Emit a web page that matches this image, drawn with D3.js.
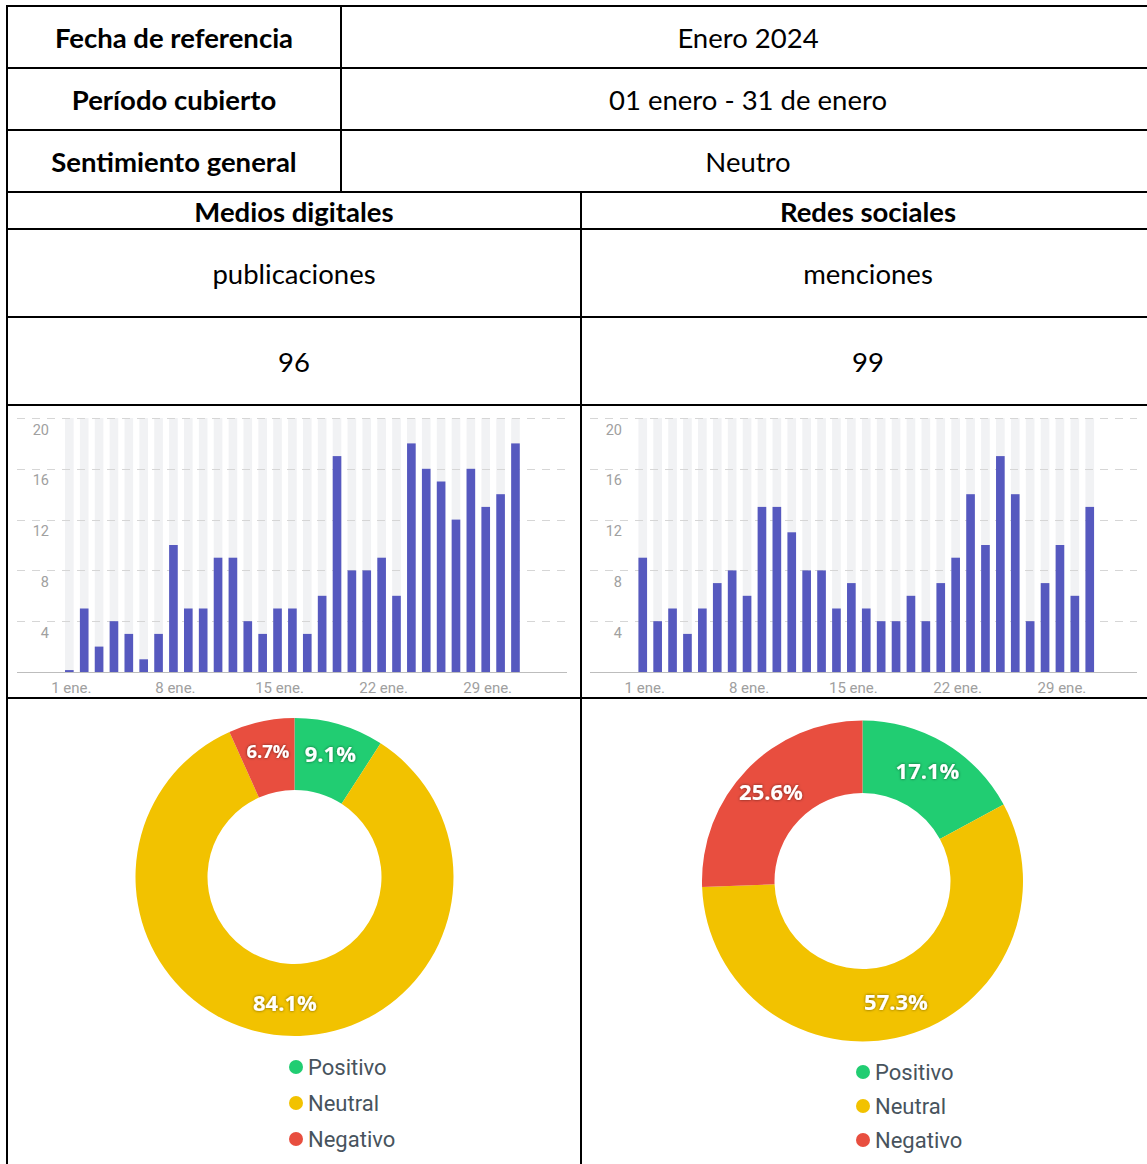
<!DOCTYPE html>
<html>
<head>
<meta charset="utf-8">
<script src="https://cdn.jsdelivr.net/npm/d3@7"></script>
<style>
  html, body { margin: 0; padding: 0; background: #fff; }
  svg { display: block; }
</style>
</head>
<body>
<svg id="chart" width="1147" height="1164"></svg>
<script>
// ---------------- DATA ----------------
const infoLabels = ["Fecha de referencia", "Período cubierto", "Sentimiento general"];
const infoValues = ["Enero 2024", "01 enero - 31 de enero", "Neutro"];
const sectionTitles = ["Medios digitales", "Redes sociales"];
const metricNames = ["publicaciones", "menciones"];
const metricTotals = [96, 99];

const days = [1,2,3,4,5,6,7,8,9,10,11,12,13,14,15,16,17,18,19,20,21,22,23,24,25,26,27,28,29,30,31];
const xTickDays = [1, 8, 15, 22, 29];
const xTickLabels = ["1 ene.", "8 ene.", "15 ene.", "22 ene.", "29 ene."];
const yTicks = [4, 8, 12, 16, 20];

const mediosDaily = [0.15,5,2,4,3,1,3,10,5,5,9,9,4,3,5,5,3,6,17,8,8,9,6,18,16,15,12,16,13,14,18];
const redesDaily  = [9,4,5,3,5,7,8,6,13,13,11,8,8,5,7,5,4,4,6,4,7,9,14,10,17,14,4,7,10,6,13];

const sentimentLabels = ["Positivo", "Neutral", "Negativo"];
const mediosSentiment = [9.1, 84.1, 6.7];
const redesSentiment  = [17.1, 57.3, 25.6];

// ---------------- STYLE ----------------
const sentimentColors = ["#21cd72", "#f2c200", "#e84e3f"];
const tableFont = "Lato, 'Open Sans', sans-serif";
const labelFont = "'Open Sans', 'Noto Sans', sans-serif";
const chartFont = "Roboto, 'Noto Sans', sans-serif";

const svg = d3.select("#chart");

const defs = svg.append("defs");
const f = defs.append("filter").attr("id", "shadow").attr("x", "-30%").attr("y", "-50%").attr("width", "160%").attr("height", "200%");
f.append("feDropShadow").attr("dx", 0).attr("dy", 0).attr("stdDeviation", 1.6)
  .attr("flood-color", "#000").attr("flood-opacity", 0.55);

// ---------------- TABLE TEXT ----------------
const rowCenters = [38, 100, 162];
function cellText(x, y, t, bold) {
  svg.append("text").attr("x", x).attr("y", y - 1)
    .attr("text-anchor", "middle").attr("dominant-baseline", "central")
    .style("font-family", tableFont).style("font-weight", bold ? 700 : 400)
    .style("font-size", "27.5px")
    .attr("fill", "#000").text(t);
}
infoLabels.forEach((t, i) => cellText(174, rowCenters[i], t, true));
infoValues.forEach((t, i) => cellText(748, rowCenters[i], t, false));
const colCenters = [294, 868];
sectionTitles.forEach((t, i) => cellText(colCenters[i], 212, t, true));
metricNames.forEach((t, i) => cellText(colCenters[i], 274, t, false));
metricTotals.forEach((t, i) => cellText(colCenters[i], 362, t, false));

// ---------------- BAR CHARTS ----------------
function barChart(values, opt) {
  const g = svg.append("g");
  const x = d3.scaleBand().domain(days).range([opt.x0, opt.x1]).paddingInner(0.42).paddingOuter(0.21);
  const y = d3.scaleLinear().domain([0, 20]).range([opt.base, 418]);

  g.selectAll("rect.bg").data(days).join("rect").attr("class", "bg")
    .attr("x", d => x(d)).attr("width", x.bandwidth())
    .attr("y", y(20)).attr("height", y(0) - y(20))
    .attr("fill", "#f1f2f4");

  g.selectAll("line.grid").data(yTicks).join("line").attr("class", "grid")
    .attr("x1", opt.gx0).attr("x2", opt.gx1)
    .attr("y1", d => Math.round(y(d)) + 0.5).attr("y2", d => Math.round(y(d)) + 0.5)
    .attr("stroke", "#d6d6d6").attr("stroke-width", 1).attr("stroke-dasharray", "8,7");

  g.selectAll("rect.bar").data(values).join("rect").attr("class", "bar")
    .attr("x", (d, i) => x(days[i])).attr("width", x.bandwidth())
    .attr("y", d => y(d)).attr("height", d => y(0) - y(d))
    .attr("fill", "#5659bf");

  g.append("line").attr("x1", opt.gx0).attr("x2", opt.gx1)
    .attr("y1", y(0) + 0.5).attr("y2", y(0) + 0.5)
    .attr("stroke", "#bdbdbd").attr("stroke-width", 1);

  g.selectAll("text.yl").data(yTicks).join("text").attr("class", "yl")
    .attr("x", opt.ylx).attr("y", d => y(d) + 12)
    .attr("text-anchor", "end").attr("dominant-baseline", "central")
    .style("font-family", chartFont).style("font-size", "14.5px")
    .attr("fill", "#a0a0a0").text(d => d);

  g.selectAll("text.xl").data(xTickDays).join("text").attr("class", "xl")
    .attr("x", d => x(d) + x.bandwidth() / 2 + 2).attr("y", opt.base + 16)
    .attr("text-anchor", "middle").attr("dominant-baseline", "central")
    .style("font-family", chartFont).style("font-size", "15px")
    .attr("fill", "#a0a0a0").text((d, i) => xTickLabels[i]);
}

barChart(mediosDaily, { x0: 61.9, x1: 522.9, base: 672, gx0: 17, gx1: 567, ylx: 49 });
barChart(redesDaily,  { x0: 635.3, x1: 1097.2, base: 672, gx0: 590, gx1: 1137, ylx: 622 });

// ---------------- DONUTS ----------------
function donut(values, opt) {
  const g = svg.append("g").attr("transform", `translate(${opt.cx},${opt.cy})`);
  const pie = d3.pie().sort(null).value(d => d);
  const arcs = pie(values);
  const arc = d3.arc().innerRadius(opt.ri).outerRadius(opt.ro);
  g.selectAll("path").data(arcs).join("path")
    .attr("d", arc).attr("fill", (d, i) => sentimentColors[i]);
  const lab = d3.arc().innerRadius(opt.rl).outerRadius(opt.rl);
  g.selectAll("text").data(arcs).join("text")
    .attr("transform", d => { const c = lab.centroid(d); return `translate(${c[0]},${c[1] - 2})`; })
    .attr("text-anchor", "middle").attr("dominant-baseline", "central")
    .style("font-family", labelFont).style("font-weight", 700)
    .style("font-size", d => (d.value < 8 ? 18.5 : 22) + "px")
    .attr("fill", "#fff").attr("filter", "url(#shadow)")
    .text(d => d3.format(".1f")(d.value) + "%");

  const lg = svg.append("g");
  sentimentLabels.forEach((t, i) => {
    const yy = opt.ly + i * opt.lstep;
    lg.append("circle").attr("cx", opt.lx).attr("cy", yy).attr("r", 7)
      .attr("fill", sentimentColors[i]);
    lg.append("text").attr("x", opt.lx + 12).attr("y", yy)
      .attr("dominant-baseline", "central")
      .style("font-family", chartFont).style("font-size", "22px")
      .attr("fill", "#47535d").text(t);
  });
}

donut(mediosSentiment, { cx: 294.5, cy: 877, ro: 159, ri: 87, rl: 127, lx: 296, ly: 1067, lstep: 36 });
donut(redesSentiment,  { cx: 862.5, cy: 881, ro: 160.5, ri: 88, rl: 127, lx: 863, ly: 1072, lstep: 34 });

// ---------------- TABLE LINES ----------------
const hLines = [
  { y: 6, x1: 6, x2: 1155 }, { y: 68, x1: 6, x2: 1155 }, { y: 130, x1: 6, x2: 1155 },
  { y: 192, x1: 6, x2: 1155 }, { y: 229, x1: 6, x2: 1155 }, { y: 317, x1: 6, x2: 1155 },
  { y: 405, x1: 6, x2: 1155 }, { y: 698, x1: 6, x2: 1155 }
];
const vLines = [
  { x: 7, y1: 5, y2: 1164 }, { x: 341, y1: 5, y2: 192 }, { x: 581, y1: 192, y2: 1164 }
];
svg.append("g").selectAll("line").data(hLines).join("line")
  .attr("x1", d => d.x1).attr("x2", d => d.x2).attr("y1", d => d.y).attr("y2", d => d.y)
  .attr("stroke", "#000").attr("stroke-width", 2);
svg.append("g").selectAll("line").data(vLines).join("line")
  .attr("x1", d => d.x).attr("x2", d => d.x).attr("y1", d => d.y1).attr("y2", d => d.y2)
  .attr("stroke", "#000").attr("stroke-width", 2);
</script>
</body>
</html>
